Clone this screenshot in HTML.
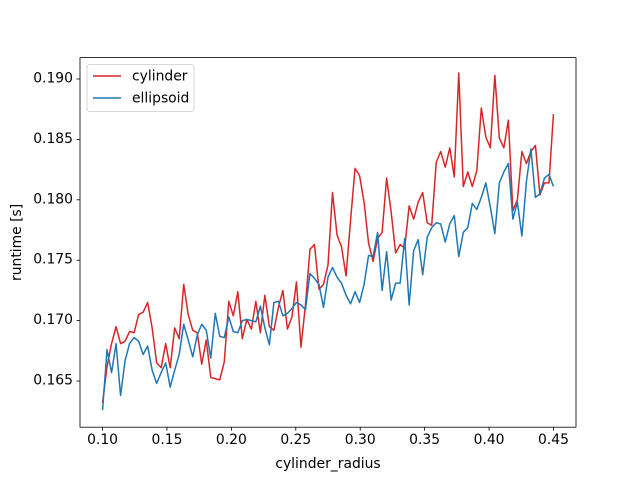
<!DOCTYPE html>
<html><head><meta charset="utf-8"><style>
body{margin:0;background:#fff;width:640px;height:480px;overflow:hidden}
svg{font-family:"DejaVu Sans","Liberation Sans",sans-serif}
</style></head><body>
<svg id="chart" width="640" height="480" xmlns="http://www.w3.org/2000/svg"></svg>
<script>
const cylinder=[0.1632,0.1662,0.1681,0.1695,0.1681,0.1683,0.1691,0.1690,0.1705,0.1707,0.1715,0.1694,0.1665,0.1661,0.1681,0.1661,0.1694,0.1685,0.1730,0.1705,0.1692,0.1690,0.1664,0.1684,0.1653,0.1652,0.1651,0.1666,0.1716,0.1704,0.1724,0.1685,0.1701,0.1693,0.1716,0.1690,0.1721,0.1695,0.1692,0.1711,0.1725,0.1693,0.1703,0.1732,0.1678,0.1713,0.1759,0.1763,0.1726,0.1730,0.1746,0.1806,0.1771,0.1761,0.1737,0.1783,0.1826,0.1820,0.1798,0.1764,0.1749,0.1768,0.1773,0.1818,0.1790,0.1756,0.1763,0.1760,0.1795,0.1784,0.1798,0.1806,0.1781,0.1779,0.1831,0.1840,0.1827,0.1843,0.1819,0.1905,0.1811,0.1823,0.1811,0.1824,0.1876,0.1852,0.1843,0.1903,0.1851,0.1843,0.1866,0.1791,0.1800,0.1840,0.1830,0.1840,0.1845,0.1804,0.1814,0.1814,0.1871];
const ellipsoid=[0.1626,0.1676,0.1657,0.1681,0.1638,0.1667,0.1681,0.1686,0.1683,0.1672,0.1679,0.1659,0.1648,0.1657,0.1665,0.1645,0.1659,0.1672,0.1697,0.1684,0.1670,0.1688,0.1697,0.1692,0.1669,0.1706,0.1687,0.1686,0.1703,0.1691,0.1690,0.1700,0.1701,0.1700,0.1699,0.1712,0.1694,0.1680,0.1715,0.1716,0.1704,0.1706,0.1710,0.1715,0.1713,0.1709,0.1739,0.1735,0.1730,0.1711,0.1736,0.1744,0.1736,0.1731,0.1721,0.1714,0.1724,0.1715,0.1730,0.1754,0.1753,0.1773,0.1725,0.1757,0.1717,0.1731,0.1731,0.1768,0.1713,0.1758,0.1767,0.1738,0.1769,0.1777,0.1781,0.1780,0.1765,0.1780,0.1787,0.1753,0.1773,0.1777,0.1797,0.1792,0.1802,0.1814,0.1794,0.1772,0.1814,0.1823,0.1830,0.1784,0.1798,0.1770,0.1815,0.1842,0.1802,0.1805,0.1818,0.1821,0.1811];
const xStart=0.10, xEnd=0.45;
const xTicks=[0.10,0.15,0.20,0.25,0.30,0.35,0.40,0.45];
const xTickLabels=["0.10","0.15","0.20","0.25","0.30","0.35","0.40","0.45"];
const yTicks=[0.165,0.170,0.175,0.180,0.185,0.190];
const yTickLabels=["0.165","0.170","0.175","0.180","0.185","0.190"];

const L=80,R=576,T=57.6,B=427.2;
const xMin=0.0825,xMax=0.4675,yMin=0.16118,yMax=0.19177;
const X=v=>L+(v-xMin)/(xMax-xMin)*(R-L);
const Y=v=>B-(v-yMin)/(yMax-yMin)*(B-T);
const svg=document.getElementById('chart');
const NS='http://www.w3.org/2000/svg';
function mk(tag,attrs,parent){const e=document.createElementNS(NS,tag);for(const k in attrs)e.setAttribute(k,attrs[k]);(parent||svg).appendChild(e);return e;}

const n=cylinder.length;
const xs=cylinder.map((_,i)=>xStart+(xEnd-xStart)*i/(n-1));
function series(vals,color,name){
  const p=mk('polyline',{points:vals.map((v,i)=>X(xs[i]).toFixed(2)+','+Y(v).toFixed(2)).join(' '),fill:'none',stroke:color,'stroke-width':1.5,'stroke-linejoin':'round'});
  
  
}
series(cylinder,'#d62728','cylinder-line');
series(ellipsoid,'#1f77b4','ellipsoid-line');

const frame=mk('rect',{x:L,y:T,width:R-L,height:B-T,fill:'none',stroke:'#000','stroke-width':0.8});



xTicks.forEach((t,i)=>{
  const x=X(t);
  mk('line',{x1:x,x2:x,y1:B,y2:B+3.5,stroke:'#000','stroke-width':0.8});
  const tx=mk('text',{x:x,y:B+17,'font-size':'10px','text-anchor':'middle',fill:'#000'});
  tx.textContent=xTickLabels[i];
  
  
});
yTicks.forEach((t,i)=>{
  const y=Y(t);
  mk('line',{x1:L-3.5,x2:L,y1:y,y2:y,stroke:'#000','stroke-width':0.8});
  const tx=mk('text',{x:L-7,y:y+3.5,'font-size':'10px','text-anchor':'end',fill:'#000'});
  tx.textContent=yTickLabels[i];
  
  
});
const xt=mk('text',{x:(L+R)/2,y:468,'font-size':'10px','text-anchor':'middle'});
xt.textContent='cylinder_radius';


const yt=mk('text',{x:0,y:0,'font-size':'10px','text-anchor':'middle',transform:'translate(21,'+((T+B)/2)+') rotate(-90)'});
yt.textContent='runtime [s]';



const lg=mk('g',{});


mk('rect',{x:87,y:64.5,width:107,height:47,rx:2.5,fill:'#fff','fill-opacity':0.8,stroke:'#ccc','stroke-width':0.8},lg);
[['cylinder','#d62728',76],['ellipsoid','#1f77b4',98]].forEach(([lab,c,y])=>{
  const g=mk('g',{},lg);
  
  
  mk('line',{x1:93,x2:121,y1:y,y2:y,stroke:c,'stroke-width':1.5},g);
  const t=mk('text',{x:132,y:y+4.5,'font-size':'10px'},g);
  t.textContent=lab;
});
svg.querySelectorAll('text').forEach(t=>t.setAttribute('font-size','13.9px'));
</script>
</body></html>
